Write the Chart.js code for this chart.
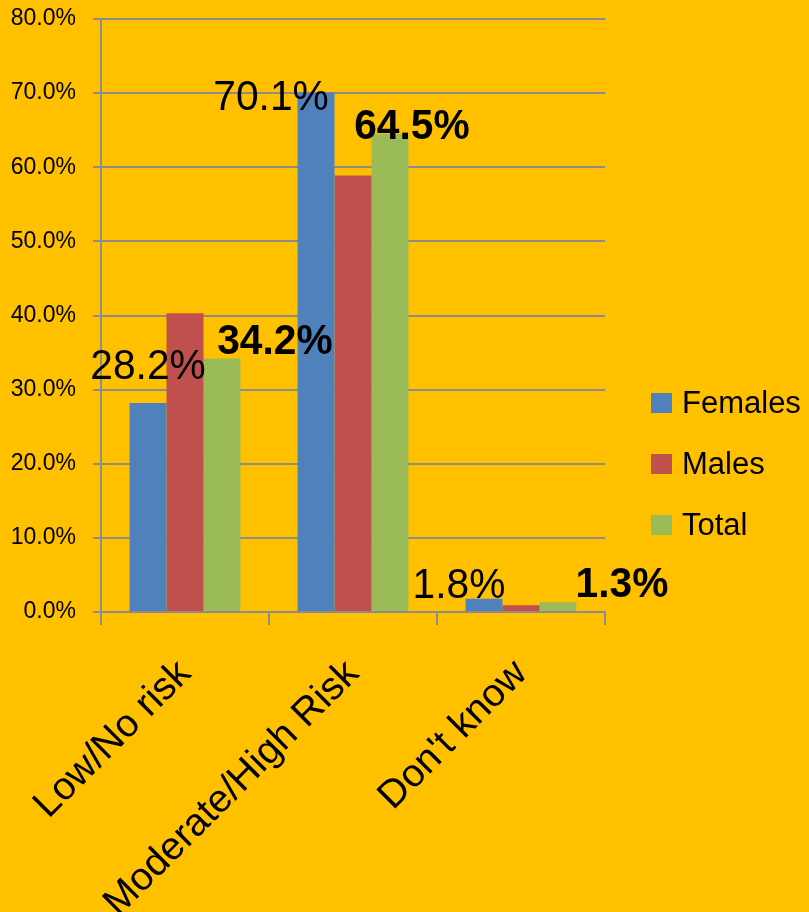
<!DOCTYPE html>
<html>
<head>
<meta charset="utf-8">
<script src="https://cdn.jsdelivr.net/npm/chart.js@4/dist/chart.umd.min.js"></script>
<style>
  html,body{margin:0;padding:0;background:#FFC000;}
  canvas{display:block;}
</style>
</head>
<body>
<canvas id="chart" width="809" height="912"></canvas>
<script>
// data (percent)
const categories = ['Low/No risk', 'Moderate/High Risk', "Don't know"];
const females = [28.2, 70.1, 1.8];
const males = [40.3, 58.9, 0.9];
const total = [34.2, 64.5, 1.3];
const yTicks = [0, 10, 20, 30, 40, 50, 60, 70, 80];

const GRID = '#8C8C8C';
const FONT = '"Liberation Sans", Arial, sans-serif';

// value labels: only Females (plain) and Total (bold), nudged like the original
const valueLabels = {
  id: 'valueLabels',
  afterDatasetsDraw(chart, args, opts) {
    const ctx = chart.ctx;
    opts.sets.forEach(s => {
      const meta = chart.getDatasetMeta(s.index);
      const vals = chart.data.datasets[s.index].data;
      meta.data.forEach((bar, j) => {
        const txt = vals[j].toFixed(1) + '%';
        ctx.save();
        ctx.font = (s.bold ? 'bold ' : '') + '42px ' + FONT;
        ctx.fillStyle = '#000';
        ctx.textAlign = 'center';
        ctx.textBaseline = 'alphabetic';
        ctx.translate(bar.x + s.dx[j], bar.y + s.dy[j]);
        ctx.scale(0.97, 1);
        ctx.fillText(txt, 0, 0);
        ctx.restore();
      });
    });
  }
};

// legend on the right, drawn by hand so the spacing matches
const sideLegend = {
  id: 'sideLegend',
  afterDraw(chart) {
    const ctx = chart.ctx;
    const x0 = chart.chartArea.right + 46;
    const step = 61;
    const n = chart.data.datasets.length;
    const y0 = chart.height / 2 + 8 - step * (n - 1) / 2;
    chart.data.datasets.forEach((ds, i) => {
      const cy = y0 + i * step;
      ctx.fillStyle = ds.backgroundColor;
      ctx.fillRect(x0, cy - 10, 21, 20);
      ctx.fillStyle = '#000';
      ctx.font = '31px ' + FONT;
      ctx.textAlign = 'left';
      ctx.textBaseline = 'middle';
      ctx.fillText(ds.label, x0 + 31, cy + 1);
    });
  }
};

new Chart(document.getElementById('chart'), {
  type: 'bar',
  data: {
    labels: categories,
    datasets: [
      {label: 'Females', data: females, backgroundColor: '#4F81BD'},
      {label: 'Males', data: males, backgroundColor: '#C0504D'},
      {label: 'Total', data: total, backgroundColor: '#9BBB59'}
    ]
  },
  options: {
    responsive: false,
    devicePixelRatio: 1,
    animation: false,
    layout: {padding: {top: 19, right: 204, bottom: 0, left: 0}},
    datasets: {bar: {categoryPercentage: 0.66, barPercentage: 1.0}},
    plugins: {
      legend: {display: false},
      tooltip: {enabled: false},
      valueLabels: {
        sets: [
          {index: 0, bold: false, dx: [0, -45, -25], dy: [-24, 18, -1]},
          {index: 2, bold: true, dx: [53, 22, 64], dy: [-4, 5, -5]}
        ]
      }
    },
    scales: {
      x: {
        grid: {offset: true, drawOnChartArea: false, color: GRID, lineWidth: 2, tickLength: 13},
        border: {display: true, color: GRID, width: 2},
        ticks: {color: '#000', font: {family: FONT, size: 39}, minRotation: 45, maxRotation: 45, padding: 26},
        afterFit(scale) {
          scale.height = 300;
          scale.paddingLeft = 0;
          scale.paddingRight = 0;
        }
      },
      y: {
        min: 0, max: 80,
        afterBuildTicks(scale) { scale.ticks = yTicks.map(v => ({value: v})); },
        grid: {color: GRID, lineWidth: 2, tickLength: 8},
        border: {display: true, color: GRID, width: 2},
        ticks: {color: '#000', font: {family: FONT, size: 23}, padding: 17,
          callback: v => v.toFixed(1) + '%'},
        afterFit(scale) {
          scale.width = 101;
          scale.paddingTop = 0;
          scale.paddingBottom = 0;
        }
      }
    }
  },
  plugins: [valueLabels, sideLegend]
});
</script>
</body>
</html>
